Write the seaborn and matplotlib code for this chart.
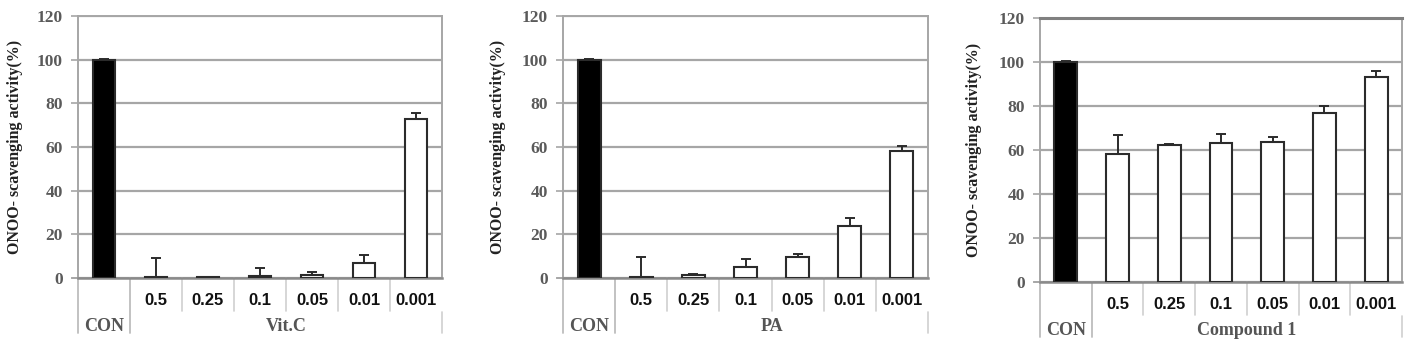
import matplotlib
matplotlib.use("Agg")
import matplotlib.pyplot as plt
import seaborn as sns
import pandas as pd
import numpy as np

# ---------------- data ----------------
categories = ["CON", "0.5", "0.25", "0.1", "0.05", "0.01", "0.001"]
group_names = ["Vit.C", "PA", "Compound 1"]
vitc_values = [100, 0.5, 0.4, 1.0, 1.2, 7.0, 73.0]
vitc_errors = [0.3, 8.5, 0.2, 3.8, 1.5, 3.5, 2.5]
pa_values = [100, 0.5, 1.5, 5.0, 9.5, 24.0, 58.0]
pa_errors = [0.3, 9.0, 0.5, 3.8, 1.5, 3.5, 2.5]
cmp_values = [100, 58.0, 62.5, 63.0, 63.5, 77.0, 93.0]
cmp_errors = [0.3, 9.0, 0.3, 4.5, 2.5, 3.0, 3.0]
y_ticks = [0, 20, 40, 60, 80, 100, 120]
y_label = "ONOO- scavenging activity(%)"

series = [(vitc_values, vitc_errors), (pa_values, pa_errors), (cmp_values, cmp_errors)]

sns.set_theme(style="white")
plt.rcParams["font.family"] = ["Liberation Serif", "DejaVu Serif"]

fig = plt.figure(figsize=(14.11, 3.40), dpi=100)
W, H = 1411, 340
boxes = [(78, 16, 442, 278), (563, 16, 928, 278), (1040, 18, 1402, 282)]
label_x = [-0.15, -0.155, -0.16]

grid_c = "#a6a6a6"
for k, ((vals, errs), gname, (x0, y0, x1, y1)) in enumerate(zip(series, group_names, boxes)):
    ax = fig.add_axes([x0 / W, 1 - y1 / H, (x1 - x0) / W, (y1 - y0) / H])
    df = pd.DataFrame({"cat": categories, "val": vals})
    pal = {c: ("black" if c == "CON" else "white") for c in categories}
    sns.barplot(data=df, x="cat", y="val", hue="cat", palette=pal, order=categories,
                hue_order=categories, legend=False, width=0.44, edgecolor="#2b2b2b",
                linewidth=1.5, ax=ax, zorder=3, saturation=1)
    xpos = np.arange(len(categories))
    ax.errorbar(xpos, vals, yerr=[np.zeros(len(errs)), errs], fmt="none",
                ecolor="#2b2b2b", elinewidth=1.4, capsize=3.5, capthick=1.4, zorder=4)
    ax.set_xlim(-0.5, len(categories) - 0.5)
    ax.set_ylim(0, 120)
    ax.set_yticks(y_ticks)
    ax.set_yticklabels([str(t) for t in y_ticks], color="#5a5a5a", fontsize=12.5,
                       fontweight="bold")
    ax.yaxis.grid(True, color=grid_c, linewidth=1.6, zorder=0)
    ax.set_axisbelow(True)
    ax.tick_params(axis="y", direction="out", length=5, width=1.2, color=grid_c, pad=6,
                   left=True)
    ax.set_xticks(xpos)
    ax.set_xticklabels([""] + categories[1:], fontsize=12, fontweight="bold",
                       family=["Liberation Sans", "DejaVu Sans"],
                       color="#111111")
    ax.tick_params(axis="x", length=0, pad=11)
    ax.set_xlabel("")
    ax.set_ylabel(y_label, fontsize=11.5, fontweight="bold", color="#222222")
    ax.yaxis.set_label_coords(label_x[k], 0.5)
    for s in ["left", "right", "top", "bottom"]:
        ax.spines[s].set_color(grid_c)
        ax.spines[s].set_linewidth(1.4)
    ax.spines["bottom"].set_color("#8a8a8a")
    ax.spines["bottom"].set_linewidth(1.8)
    if k == 2:
        ax.spines["top"].set_color("#808080")
        ax.spines["top"].set_linewidth(2.2)

    tr = ax.get_xaxis_transform()
    # category table below the axis
    for b in range(1, len(categories) - 1):
        ax.plot([b + 0.5, b + 0.5], [0, -0.125], transform=tr, color="#cfcfcf",
                lw=1.2, clip_on=False)
    ax.plot([0.5, 0.5], [0, -0.21], transform=tr, color="#bdbdbd", lw=1.3, clip_on=False)
    ax.plot([-0.5, -0.5], [0, -0.21], transform=tr, color="#bdbdbd", lw=1.3, clip_on=False)
    ax.plot([len(categories) - 0.5] * 2, [-0.13, -0.21], transform=tr, color="#cfcfcf",
            lw=1.2, clip_on=False)
    ax.plot([-0.62, -0.5], [0, 0], transform=tr, color=grid_c, lw=1.2, clip_on=False)
    ax.text(0, -0.185, categories[0], transform=tr, ha="center", va="center",
            fontsize=13, fontweight="bold", color="#555555")
    ax.text((len(categories)) / 2, -0.185, gname, transform=tr, ha="center",
            va="center", fontsize=13, fontweight="bold", color="#555555")

fig.savefig("out.png", dpi=100, facecolor="white")
